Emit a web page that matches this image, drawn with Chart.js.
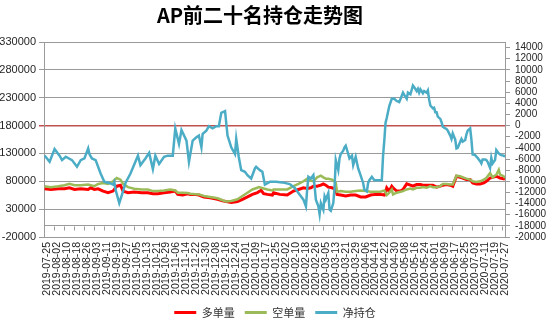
<!DOCTYPE html>
<html>
<head>
<meta charset="utf-8">
<script src="https://cdn.jsdelivr.net/npm/chart.js@4.4.0/dist/chart.umd.min.js"></script>
<style>
  html, body { margin: 0; padding: 0; background: #fff; }
</style>
</head>
<body>
<canvas id="posChart" width="550" height="322"></canvas>
<script>
const titleText = "AP前二十名持仓走势图";
const seriesNames = ["多单量", "空单量", "净持仓"];

// x tick labels, every 8 days
const tickLabels = [
  "2019-07-25", "2019-08-02", "2019-08-10", "2019-08-18", "2019-08-26", "2019-09-03",
  "2019-09-11", "2019-09-19", "2019-09-27", "2019-10-05", "2019-10-13", "2019-10-21",
  "2019-10-29", "2019-11-06", "2019-11-14", "2019-11-22", "2019-11-30", "2019-12-08",
  "2019-12-16", "2019-12-24", "2020-01-01", "2020-01-09", "2020-01-17", "2020-01-25",
  "2020-02-02", "2020-02-10", "2020-02-18", "2020-02-26", "2020-03-05", "2020-03-13",
  "2020-03-21", "2020-03-29", "2020-04-06", "2020-04-14", "2020-04-22", "2020-04-30",
  "2020-05-08", "2020-05-16", "2020-05-24", "2020-06-01", "2020-06-09", "2020-06-17",
  "2020-06-25", "2020-07-03", "2020-07-11", "2020-07-19", "2020-07-27"
];
const leftTicks = [-20000, 0, 30000, 80000, 130000, 180000, 230000, 280000, 330000];
const rightTicks = [
  -20000, -18000, -16000, -14000, -12000, -10000, -8000, -6000, -4000,
  -2000, 0, 2000, 4000, 6000, 8000, 10000, 12000, 14000
];

// days counted from 2019-07-25
const posDays = [
  0, 5, 11, 16, 20, 24, 29, 35, 37, 40, 43, 47, 51, 55, 58, 61, 63, 67, 72, 78,
  83, 87, 91, 96, 101, 105, 107, 111, 115, 117, 120, 124, 128, 133, 139, 143, 146, 150, 155, 159,
  163, 167, 171, 172, 174, 176, 179, 183, 184, 189, 195, 200, 204, 208, 211, 214, 216, 219, 222, 224,
  226, 228, 231, 234, 235, 238, 242, 246, 250, 254, 258, 262, 266, 270, 273, 274, 275, 277, 279, 280,
  283, 286, 288, 291, 294, 296, 299, 302, 304, 307, 310, 312, 315, 318, 320, 323, 326, 328, 331, 334,
  336, 339, 342, 344, 347, 350, 353, 355, 358, 360, 363, 365, 366, 369, 370
];
const longValues = [
  66500, 65300, 66500, 66500, 68300, 65300, 66500, 65300, 68300, 65300, 66500, 62400, 59500, 62400, 71200, 73000, 62400, 59500, 60600, 59500,
  59500, 57700, 57700, 59500, 60600, 62400, 56500, 55300, 57700, 56500, 56500, 55300, 51900, 50600, 47700, 44800, 43600, 41800, 43600, 47700,
  51900, 56500, 59500, 61200, 63600, 57700, 56500, 55300, 59500, 56500, 55300, 62400, 65300, 68300, 67100, 68300, 71200, 71200, 73000, 75300,
  73000, 69500, 68300, 65300, 56500, 55300, 53600, 55300, 55300, 51900, 51900, 55300, 56500, 56500, 55300, 59500, 68300, 62400, 71200, 68300,
  62400, 62400, 65300, 75300, 73000, 71200, 74200, 74200, 73000, 73000, 73000, 73000, 69500, 71200, 73000, 74200, 73000, 71200, 88900, 87100,
  85900, 83000, 83000, 77100, 75300, 75300, 77100, 80000, 85900, 87100, 88900, 87100, 85900, 84700, 83000
];
const shortValues = [
  71200, 69500, 71200, 73000, 75300, 73000, 73000, 74200, 73000, 71200, 75300, 77100, 75300, 80000, 85900, 83000, 75300, 69500, 66500, 65300,
  65300, 62400, 62400, 63600, 65300, 63600, 59500, 59500, 58900, 57700, 57100, 56500, 53600, 51900, 49500, 45900, 43600, 44800, 47700, 53600,
  59500, 65300, 68300, 69500, 68300, 67100, 65300, 63600, 65300, 65300, 65300, 71200, 75300, 80000, 84700, 81200, 80000, 87100, 90000, 87100,
  84700, 84700, 83000, 77100, 61200, 62400, 61200, 61200, 62400, 63600, 62400, 61200, 61200, 61200, 63600, 59500, 55300, 59500, 65300, 56500,
  59500, 61200, 62400, 65300, 67100, 65300, 68300, 68300, 69500, 68300, 71200, 69500, 69500, 71200, 75300, 75300, 74200, 74200, 90000, 88900,
  87100, 84700, 83000, 80000, 78900, 80000, 83000, 85900, 94700, 87100, 91800, 100600, 91800, 88900, 85900
];

const netDays = [
  0, 4, 8, 12, 14, 17, 22, 26, 29, 32, 35, 36, 38, 41, 45, 48, 52, 55, 56, 57,
  60, 63, 65, 69, 75, 77, 81, 84, 87, 89, 92, 96, 99, 103, 105, 108, 110, 114, 116, 119,
  122, 124, 126, 127, 130, 132, 135, 138, 140, 142, 145, 147, 150, 153, 154, 156, 158, 161, 163, 166,
  169, 170, 173, 175, 177, 181, 186, 191, 197, 201, 204, 208, 210, 211, 212, 214, 216, 217, 218, 220,
  221, 222, 224, 225, 226, 228, 229, 230, 232, 233, 234, 236, 237, 238, 240, 241, 242, 244, 245, 247,
  248, 250, 252, 253, 256, 257, 259, 260, 261, 263, 265, 268, 271, 272, 273, 274, 275, 277, 279, 281,
  283, 285, 288, 289, 291, 292, 294, 296, 297, 299, 300, 301, 302, 304, 305, 307, 308, 309, 310, 312,
  313, 314, 315, 316, 318, 319, 320, 322, 323, 324, 326, 327, 328, 330, 331, 332, 334, 335, 336, 338,
  339, 340, 342, 343, 344, 346, 347, 348, 350, 351, 352, 354, 355, 356, 358, 359, 360, 362, 363, 365,
  366, 367, 369, 370
];
const netValues = [
  -5400, -6500, -4200, -5400, -6200, -5600, -6200, -7400, -6200, -5900, -4100, -5100, -5900, -6200, -8600, -10100, -10300, -10600, -10100, -11500,
  -13900, -11800, -10300, -8600, -5400, -7100, -5900, -4900, -7800, -5400, -6900, -5600, -5400, -5400, -500, -3300, -800, -2700, -6500, -2700,
  -2100, -1800, -3900, -1500, -900, -100, -500, -100, -100, 2300, 2600, -1800, -3900, -5100, -2400, -5600, -8000, -8300, -8900, -9500,
  -7700, -7400, -8000, -8300, -10600, -10100, -10100, -10200, -10500, -11200, -12100, -13300, -14500, -11500, -9200, -9500, -8900, -10900, -13300, -14500,
  -15900, -13900, -15100, -12700, -13300, -12100, -15100, -15300, -13900, -11200, -6200, -8000, -5900, -5100, -4500, -3900, -3600, -5100, -5900, -5400,
  -7100, -5600, -7700, -8300, -10300, -11500, -11800, -10300, -9800, -9200, -9800, -9800, -9800, -5400, -2700, 500, 1400, 3500, 4800, 4800,
  4400, 4200, 5900, 5500, 4800, 5900, 5600, 7200, 6900, 6200, 6600, 5900, 6500, 5800, 6200, 5900, 6300, 4700, 3600, 3100,
  3200, 2400, 2400, 1600, 1200, 600, -200, -500, -600, -900, -1800, -2400, -1400, -2500, -4100, -4000, -2900, -2400, -2900, -2600,
  -1600, -900, -500, -2500, -5200, -5300, -5600, -5800, -6400, -6800, -6100, -6100, -6200, -6500, -7600, -5800, -6800, -6200, -4400, -5000,
  -5200, -5300, -5400, -5600
];

const gridColor = "#9a9a9a";
const redGrid = "#C0504D";
const tickColor = "#262626";
const dayMs = 86400000;
const day0 = Date.parse(tickLabels[0]);
const labelDays = tickLabels.map(s => Math.round((Date.parse(s) - day0) / dayMs));

const toPoints = (days, vals) => days.map((d, i) => ({ x: d, y: vals[i] }));

// small tick marks hanging from the zero line (category axis crosses at 0)
const zeroAxisTicks = {
  id: "zeroAxisTicks",
  afterDatasetsDraw(chart) {
    const ctx = chart.ctx;
    const xs = chart.scales.x;
    const py = Math.round(chart.scales.y.getPixelForValue(0)) + 0.5;
    ctx.save();
    ctx.strokeStyle = gridColor;
    ctx.lineWidth = 1;
    ctx.beginPath();
    labelDays.forEach(d => {
      const px = Math.round(xs.getPixelForValue(d - 0.5)) + 0.5;
      ctx.moveTo(px, py);
      ctx.lineTo(px, py + 4);
    });
    ctx.stroke();
    ctx.restore();
  }
};

const titleDraw = {
  id: "titleDraw",
  afterDraw(chart) {
    const ctx = chart.ctx;
    ctx.save();
    ctx.font = 'bold 20px "Noto Sans CJK SC"';
    ctx.fillStyle = "#000";
    ctx.textAlign = "center";
    ctx.textBaseline = "middle";
    ctx.fillText(titleText, 260, 15);
    ctx.restore();
  }
};

new Chart(document.getElementById("posChart"), {
  type: "line",
  data: {
    datasets: [
      {
        label: seriesNames[0],
        data: toPoints(posDays, longValues),
        borderColor: "#FF0000",
        backgroundColor: "#FF0000",
        borderWidth: 3,
        yAxisID: "y",
        order: 3
      },
      {
        label: seriesNames[1],
        data: toPoints(posDays, shortValues),
        borderColor: "#9BBB59",
        backgroundColor: "#9BBB59",
        borderWidth: 2.5,
        yAxisID: "y",
        order: 2
      },
      {
        label: seriesNames[2],
        data: toPoints(netDays, netValues),
        borderColor: "#4BACC6",
        backgroundColor: "#4BACC6",
        borderWidth: 2.5,
        yAxisID: "y1",
        order: 1
      }
    ]
  },
  options: {
    responsive: false,
    devicePixelRatio: 1,
    animation: false,
    elements: { point: { radius: 0 }, line: { tension: 0 } },
    layout: { padding: { top: 42, bottom: -6, left: 0, right: 0 } },
    plugins: {
      tooltip: { enabled: false },
      legend: {
        position: "bottom",
        labels: {
          boxWidth: 22,
          boxHeight: 3,
          padding: 10,
          color: "#333",
          font: { family: '"Noto Sans CJK SC"', size: 11 },
          sort: (a, b) => a.datasetIndex - b.datasetIndex,
          generateLabels: (chart) =>
            Chart.defaults.plugins.legend.labels.generateLabels(chart).map(l => ({ ...l, lineWidth: 0 }))
        }
      }
    },
    scales: {
      x: {
        type: "linear",
        min: -0.5,
        max: 370,
        afterBuildTicks: (s) => { s.ticks = labelDays.map(v => ({ value: v })); },
        afterFit: (s) => { s.height = 60; },
        grid: { display: false, drawTicks: false },
        border: { display: true, color: gridColor },
        ticks: {
          autoSkip: false,
          minRotation: 90,
          maxRotation: 90,
          padding: 5,
          labelOffset: 2.5,
          color: tickColor,
          font: { family: '"Liberation Sans"', size: 10.5 },
          callback: (v) => tickLabels[labelDays.indexOf(v)]
        }
      },
      y: {
        position: "left",
        min: -20000,
        max: 330000,
        afterBuildTicks: (s) => { s.ticks = leftTicks.map(v => ({ value: v })); },
        afterFit: (s) => { s.width = 44; },
        ticks: {
          autoSkip: false,
          padding: 3,
          color: tickColor,
          font: { family: '"Liberation Sans"', size: 11 },
          callback: (v) => (v === 0 ? "" : String(v))
        },
        grid: {
          tickLength: 5,
          color: (c) => (c.tick && c.tick.value === 180000 ? redGrid : gridColor),
          tickColor: (c) => (c.tick && c.tick.value === 0 ? "rgba(0,0,0,0)" : (c.tick && c.tick.value === 180000 ? redGrid : gridColor)),
          lineWidth: (c) => (c.tick && c.tick.value === 180000 ? 1.5 : 1)
        },
        border: { color: gridColor }
      },
      y1: {
        position: "right",
        min: -20000,
        max: 15000,
        afterBuildTicks: (s) => { s.ticks = rightTicks.map(v => ({ value: v })); },
        afterFit: (s) => { s.width = 45; },
        ticks: {
          autoSkip: false,
          padding: 5,
          color: tickColor,
          font: { family: '"Liberation Sans"', size: 10 },
          callback: (v) => String(v)
        },
        grid: { drawOnChartArea: false, tickLength: 5, color: gridColor },
        border: { color: gridColor }
      }
    }
  },
  plugins: [zeroAxisTicks, titleDraw]
});
</script>
</body>
</html>
